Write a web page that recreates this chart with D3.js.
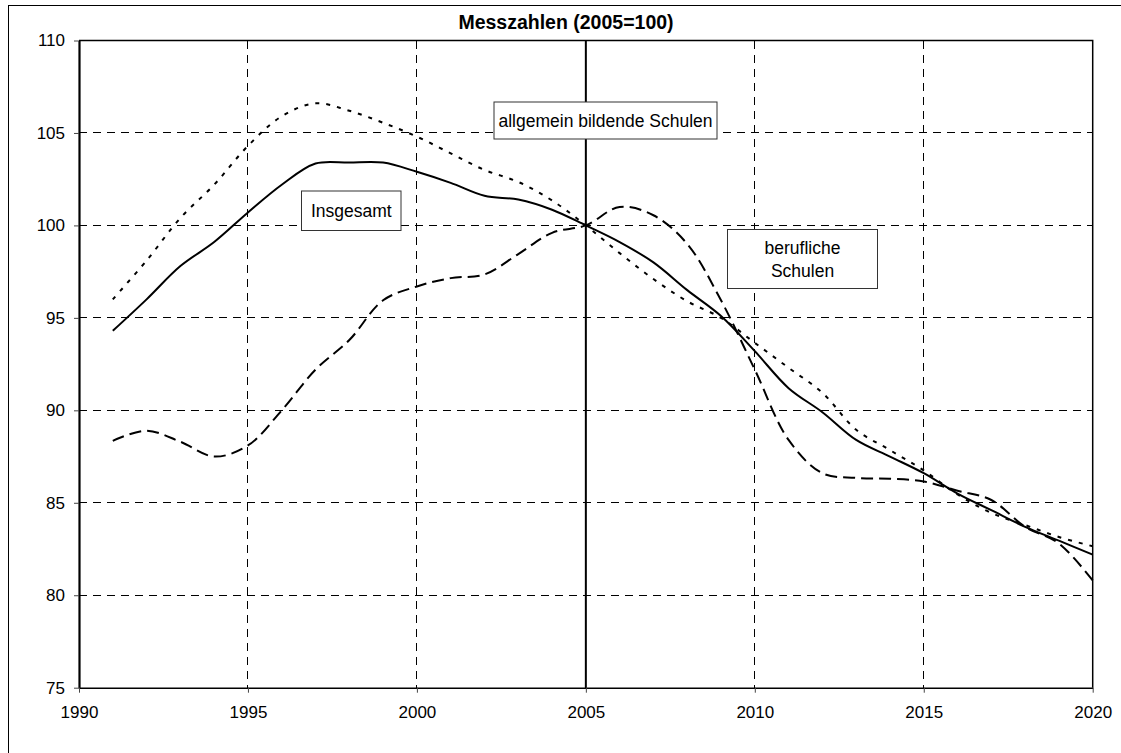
<!DOCTYPE html>
<html>
<head>
<meta charset="utf-8">
<script src="https://cdn.jsdelivr.net/npm/d3@7"></script>
<style>
  body { margin: 0; background: #fff; }
  svg { display: block; font-family: "Liberation Sans", Arial, sans-serif; }
</style>
</head>
<body>
<div id="chart"></div>
<script>
(function() {
  'use strict';

  // data
  var years = d3.range(1991, 2021);
  var insgesamt = [94.3, 96.0, 97.8, 99.1, 100.7, 102.2, 103.35, 103.4, 103.4, 102.9,
                   102.3, 101.6, 101.4, 100.85, 100.0, 99.1, 98.0, 96.5, 95.1, 93.2,
                   91.2, 89.9, 88.4, 87.5, 86.6, 85.5, 84.6, 83.7, 82.95, 82.2];
  var allgemein = [96.0, 98.1, 100.4, 102.2, 104.3, 105.9, 106.6, 106.2, 105.55, 104.8,
                   103.9, 103.0, 102.35, 101.35, 100.0, 98.5, 97.1, 95.9, 95.0, 93.65,
                   92.3, 90.95, 88.95, 87.85, 86.75, 85.45, 84.45, 83.8, 83.15, 82.65];
  var beruflich = [88.35, 88.9, 88.3, 87.5, 88.1, 90.0, 92.2, 93.8, 95.95, 96.7,
                   97.15, 97.35, 98.45, 99.6, 100.0, 101.0, 100.55, 99.0, 95.95, 92.2,
                   88.4, 86.6, 86.35, 86.3, 86.15, 85.65, 85.15, 83.7, 82.8, 80.8];
  var xTicks = [1990, 1995, 2000, 2005, 2010, 2015, 2020];
  var yTicks = [75, 80, 85, 90, 95, 100, 105, 110];

  var series = [
    { name: 'allgemein', values: allgemein, dash: '4,7' },
    { name: 'beruflich', values: beruflich, dash: '12,6' },
    { name: 'insgesamt', values: insgesamt, dash: null }
  ];

  var labels = [
    { lines: ['allgemein bildende Schulen'], x0: 494, y0: 102, x1: 717, y1: 139 },
    { lines: ['Insgesamt'], x0: 301.5, y0: 191, x1: 401, y1: 230.5 },
    { lines: ['berufliche', 'Schulen'], x0: 727.5, y0: 229.5, x1: 877.5, y1: 288.5 }
  ];

  var width = 1121, height = 753;
  var margin = { left: 79, top: 40.5, right: 1092.7, bottom: 687.7 };

  var svg = d3.select('#chart')
    .append('svg')
    .attr('width', width)
    .attr('height', height);

  // outer frame (only top and left visible in the window)
  svg.append('rect')
    .attr('x', 8.5).attr('y', 5.5)
    .attr('width', 1200).attr('height', 900)
    .attr('fill', 'none')
    .attr('stroke', '#000')
    .attr('stroke-width', 1);

  // title
  svg.append('text')
    .attr('x', 566)
    .attr('y', 28.5)
    .attr('text-anchor', 'middle')
    .style('font-weight', 'bold')
    .style('font-size', '19.5px')
    .text('Messzahlen (2005=100)');

  var x = d3.scaleLinear().domain([1990, 2020]).range([margin.left, margin.right]);
  var y = d3.scaleLinear().domain([75, 110]).range([margin.bottom, margin.top]);

  // grid
  var grid = svg.append('g')
    .attr('stroke', '#000')
    .attr('stroke-width', 1)
    .attr('stroke-dasharray', '8,6')
    .attr('shape-rendering', 'crispEdges');

  grid.selectAll('line.v')
    .data(xTicks.slice(1, -1))
    .enter().append('line')
    .attr('class', 'v')
    .attr('x1', function(d) { return x(d); })
    .attr('x2', function(d) { return x(d); })
    .attr('y1', y(110))
    .attr('y2', y(75));

  grid.selectAll('line.h')
    .data(yTicks.slice(1, -1))
    .enter().append('line')
    .attr('class', 'h')
    .attr('x1', x(1990))
    .attr('x2', x(2020))
    .attr('y1', function(d) { return y(d); })
    .attr('y2', function(d) { return y(d); });

  // plot frame top / right
  svg.append('path')
    .attr('d', 'M' + x(1990) + ',' + y(110) + 'H' + x(2020) + 'V' + y(75))
    .attr('fill', 'none')
    .attr('stroke', '#000')
    .attr('stroke-width', 1.5);

  // axes
  var yAxis = svg.append('g')
    .attr('transform', 'translate(' + x(1990) + ',0)')
    .call(d3.axisLeft(y).tickValues(yTicks).tickSize(5).tickPadding(9).tickSizeOuter(0));
  yAxis.select('.domain').attr('stroke-width', 2.2);

  var xAxis = svg.append('g')
    .attr('transform', 'translate(0,' + y(75) + ')')
    .call(d3.axisBottom(x).tickValues(xTicks).tickFormat(d3.format('d'))
      .tickSize(5).tickPadding(13).tickSizeOuter(0));
  xAxis.select('.domain').attr('stroke-width', 1.5);

  svg.selectAll('.tick text')
    .style('font-size', '17px')
    .style('font-family', '"Liberation Sans", Arial, sans-serif')
    .attr('fill', '#000');
  svg.selectAll('.tick line').attr('stroke', '#444');

  // 2005 reference line
  svg.append('line')
    .attr('x1', x(2005)).attr('x2', x(2005))
    .attr('y1', y(110)).attr('y2', y(75))
    .attr('stroke', '#000')
    .attr('stroke-width', 2);

  // lines
  var line = d3.line()
    .x(function(d, i) { return x(years[i]); })
    .y(function(d) { return y(d); })
    .curve(d3.curveCatmullRom.alpha(0.5));

  svg.selectAll('path.series')
    .data(series)
    .enter().append('path')
    .attr('class', 'series')
    .attr('d', function(s) { return line(s.values); })
    .attr('fill', 'none')
    .attr('stroke', '#000')
    .attr('stroke-width', 2)
    .attr('stroke-dasharray', function(s) { return s.dash; });

  // annotation boxes
  var box = svg.selectAll('g.label')
    .data(labels)
    .enter().append('g')
    .attr('class', 'label');

  box.append('rect')
    .attr('x', function(d) { return d.x0; })
    .attr('y', function(d) { return d.y0; })
    .attr('width', function(d) { return d.x1 - d.x0; })
    .attr('height', function(d) { return d.y1 - d.y0; })
    .attr('fill', '#fff')
    .attr('stroke', '#333')
    .attr('stroke-width', 1);

  box.each(function(d) {
    var g = d3.select(this);
    var cx = (d.x0 + d.x1) / 2, cy = (d.y0 + d.y1) / 2;
    var lh = 23;
    d.lines.forEach(function(t, i) {
      g.append('text')
        .attr('x', cx)
        .attr('y', cy + (i - (d.lines.length - 1) / 2) * lh)
        .attr('dy', '0.36em')
        .attr('text-anchor', 'middle')
        .style('font-size', '17.5px')
        .text(t);
    });
  });
})();
</script>
</body>
</html>
